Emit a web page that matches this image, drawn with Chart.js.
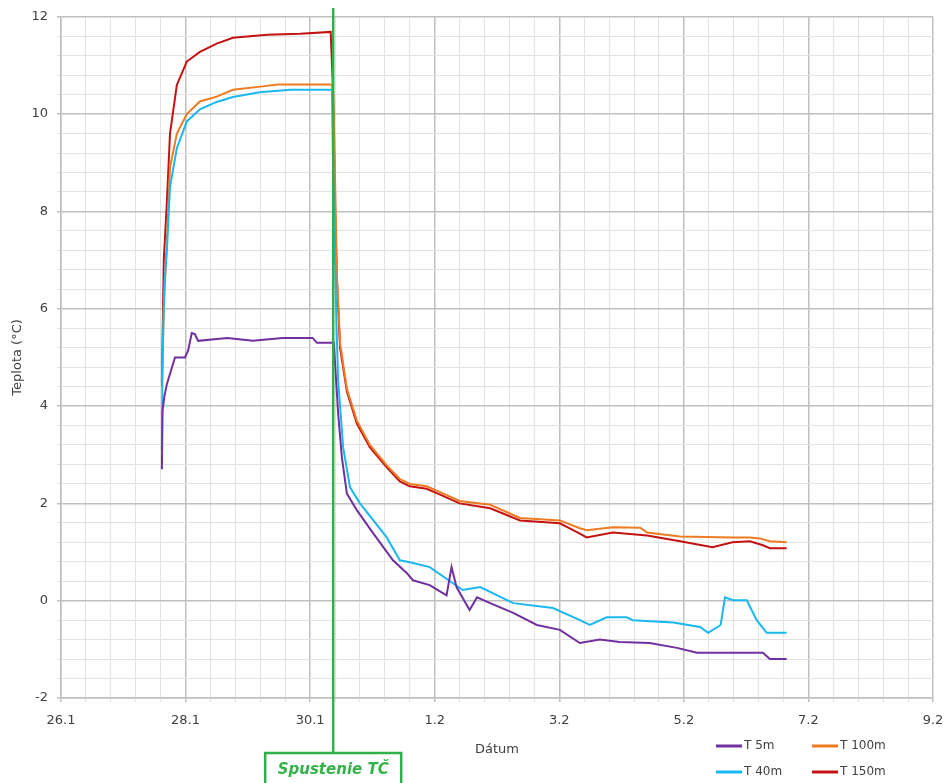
<!DOCTYPE html>
<html>
<head>
<meta charset="utf-8">
<script src="https://cdn.jsdelivr.net/npm/chart.js@4.4.1/dist/chart.umd.min.js"></script>
<style>
  html, body { margin: 0; padding: 0; background: #fff; }
  #wrap { width: 950px; height: 783px; }
</style>
</head>
<body>
<div id="wrap"><canvas id="chart" width="950" height="783"></canvas></div>
<script>
// x values are days counted from 26.1 (day 0)
const xTickLabels = ['26.1', '28.1', '30.1', '1.2', '3.2', '5.2', '7.2', '9.2'];
const startDay = 4.37; // Spustenie TČ

const t5Days = [1.62, 1.63, 1.66, 1.70, 1.83, 1.99, 2.04, 2.10, 2.15, 2.20, 2.67, 3.08, 3.56, 4.04, 4.11, 4.35, 4.38, 4.45, 4.51, 4.59, 4.75, 5.01, 5.33, 5.55, 5.65, 5.92, 6.19, 6.27, 6.35, 6.56, 6.68, 6.89, 7.26, 7.64, 8.01, 8.33, 8.65, 8.97, 9.45, 9.89, 10.21, 11.27, 11.38, 11.65];
const t5Vals = [2.7, 3.9, 4.2, 4.45, 5.0, 5.0, 5.14, 5.5, 5.48, 5.34, 5.4, 5.34, 5.4, 5.4, 5.3, 5.3, 5.3, 3.84, 2.94, 2.2, 1.86, 1.39, 0.83, 0.57, 0.42, 0.32, 0.11, 0.69, 0.28, -0.19, 0.07, -0.05, -0.25, -0.5, -0.6, -0.87, -0.8, -0.85, -0.87, -0.97, -1.07, -1.07, -1.2, -1.2];

const t40Days = [1.62, 1.63, 1.66, 1.70, 1.75, 1.86, 2.02, 2.23, 2.50, 2.76, 3.19, 3.68, 4.35, 4.38, 4.43, 4.45, 4.53, 4.64, 4.80, 5.23, 5.44, 5.60, 5.92, 6.45, 6.73, 7.26, 7.90, 8.33, 8.49, 8.76, 9.08, 9.18, 9.83, 10.26, 10.39, 10.59, 10.66, 10.79, 11.01, 11.17, 11.33, 11.65];
const t40Vals = [3.1, 5.0, 6.5, 7.2, 8.5, 9.3, 9.85, 10.1, 10.25, 10.35, 10.45, 10.5, 10.5, 8.0, 5.34, 4.52, 3.15, 2.33, 2.0, 1.3, 0.83, 0.79, 0.69, 0.22, 0.28, -0.05, -0.15, -0.4, -0.5, -0.34, -0.34, -0.4, -0.45, -0.54, -0.66, -0.5, 0.07, 0.01, 0.01, -0.4, -0.66, -0.66];

const t100Days = [1.62, 1.65, 1.70, 1.75, 1.86, 2.02, 2.23, 2.50, 2.76, 3.24, 3.47, 4.35, 4.38, 4.43, 4.48, 4.59, 4.75, 4.96, 5.23, 5.44, 5.60, 5.87, 6.05, 6.40, 6.89, 7.37, 8.01, 8.33, 8.44, 8.86, 9.30, 9.41, 9.94, 10.78, 11.06, 11.22, 11.38, 11.65];
const t100Vals = [4.4, 6.0, 7.4, 8.9, 9.6, 10.0, 10.26, 10.36, 10.5, 10.57, 10.61, 10.61, 10.0, 6.7, 5.3, 4.35, 3.7, 3.2, 2.78, 2.5, 2.4, 2.35, 2.25, 2.05, 1.97, 1.7, 1.65, 1.49, 1.45, 1.51, 1.5, 1.4, 1.32, 1.3, 1.3, 1.28, 1.22, 1.2];

const t150Days = [1.62, 1.65, 1.70, 1.75, 1.86, 2.02, 2.23, 2.50, 2.76, 3.31, 3.84, 4.33, 4.37, 4.40, 4.43, 4.48, 4.59, 4.75, 4.96, 5.23, 5.44, 5.60, 5.87, 6.05, 6.40, 6.89, 7.37, 8.01, 8.33, 8.44, 8.86, 9.41, 9.94, 10.46, 10.78, 11.06, 11.27, 11.38, 11.65];
const t150Vals = [4.5, 7.0, 8.2, 9.6, 10.6, 11.08, 11.28, 11.45, 11.57, 11.63, 11.65, 11.69, 10.4, 8.0, 6.6, 5.2, 4.3, 3.64, 3.15, 2.74, 2.45, 2.35, 2.3, 2.2, 2.0, 1.9, 1.65, 1.59, 1.38, 1.3, 1.4, 1.34, 1.22, 1.1, 1.2, 1.22, 1.14, 1.08, 1.08];

const toPoints = (days, vals) => days.map((d, i) => ({ x: d, y: vals[i] }));
const isMajor = v => Math.abs(v / 2 - Math.round(v / 2)) < 1e-6;
const gridColor = ctx => isMajor(ctx.tick.value) ? '#c0c0c0' : '#e3e3e3';
const gridWidth = ctx => isMajor(ctx.tick.value) ? 1.5 : 1;

Chart.defaults.font.family = '"DejaVu Sans", Verdana, sans-serif';
Chart.defaults.color = '#404040';

function ds(label, days, vals, color) {
  return {
    label: label,
    data: toPoints(days, vals),
    borderColor: color,
    backgroundColor: color,
    borderWidth: 2,
    pointRadius: 0,
    tension: 0,
    fill: false
  };
}

// green marker line, annotation box and legend
const overlay = {
  id: 'overlay',
  afterDatasetsDraw(chart) {
    const c = chart.ctx;
    const x = chart.scales.x.getPixelForValue(startDay);
    c.save();
    c.strokeStyle = '#2fb04a';
    c.lineWidth = 2.5;
    c.beginPath();
    c.moveTo(x, 8);
    c.lineTo(x, 753);
    c.stroke();
    c.restore();
  },
  afterDraw(chart) {
    const c = chart.ctx;
    const x = chart.scales.x.getPixelForValue(startDay);
    c.save();
    // annotation box
    c.fillStyle = '#fff';
    c.strokeStyle = '#2fb04a';
    c.lineWidth = 2.5;
    c.fillRect(x - 68, 753, 136, 34);
    c.strokeRect(x - 68, 753, 136, 34);
    c.fillStyle = '#35b34a';
    c.font = 'italic bold 15px "DejaVu Sans"';
    c.textAlign = 'center';
    c.textBaseline = 'middle';
    c.fillText('Spustenie TČ', x, 770);

    // legend, 2 x 2
    const slots = [[716, 746], [716, 772], [812, 746], [812, 772]];
    c.font = '12px "DejaVu Sans"';
    c.textAlign = 'left';
    chart.data.datasets.forEach((d, i) => {
      const [lx, ly] = slots[i];
      c.strokeStyle = d.borderColor;
      c.lineWidth = 3;
      c.beginPath();
      c.moveTo(lx, ly);
      c.lineTo(lx + 26, ly);
      c.stroke();
      c.fillStyle = '#404040';
      c.fillText(d.label, lx + 28, ly);
    });
    c.restore();
  }
};

new Chart(document.getElementById('chart'), {
  type: 'line',
  data: {
    datasets: [
      ds('T 5m', t5Days, t5Vals, '#7030a0'),
      ds('T 40m', t40Days, t40Vals, '#1ab8f0'),
      ds('T 100m', t100Days, t100Vals, '#ee7b22'),
      ds('T 150m', t150Days, t150Vals, '#c41212')
    ]
  },
  options: {
    responsive: false,
    animation: false,
    layout: { padding: { top: 15, right: 17, left: 0, bottom: 0 } },
    plugins: { legend: { display: false }, tooltip: { enabled: false } },
    scales: {
      x: {
        type: 'linear',
        min: 0,
        max: 14,
        afterFit: s => { s.height = 85; s.paddingLeft = 0; s.paddingRight = 0; },
        ticks: {
          stepSize: 0.4,
          autoSkip: false,
          maxRotation: 0,
          padding: 11,
          font: { size: 13 },
          callback: v => isMajor(v) ? xTickLabels[Math.round(v / 2)] : ''
        },
        grid: { color: gridColor, lineWidth: gridWidth, tickLength: 4 },
        border: { color: '#c0c0c0', width: 1.5 },
        title: {
          display: true,
          text: 'Dátum',
          font: { size: 13 },
          padding: { top: 4, bottom: 26 }
        }
      },
      y: {
        min: -2,
        max: 12,
        afterFit: s => { s.width = 61; },
        ticks: {
          stepSize: 0.4,
          autoSkip: false,
          padding: 9,
          font: { size: 13 },
          callback: v => isMajor(v) ? String(Math.round(v)) : ''
        },
        grid: { color: gridColor, lineWidth: gridWidth, tickLength: 4 },
        border: { color: '#c0c0c0', width: 1.5 },
        title: {
          display: true,
          text: 'Teplota (°C)',
          font: { size: 13 },
          padding: { top: 10, bottom: 0 }
        }
      }
    }
  },
  plugins: [overlay]
});
</script>
</body>
</html>
